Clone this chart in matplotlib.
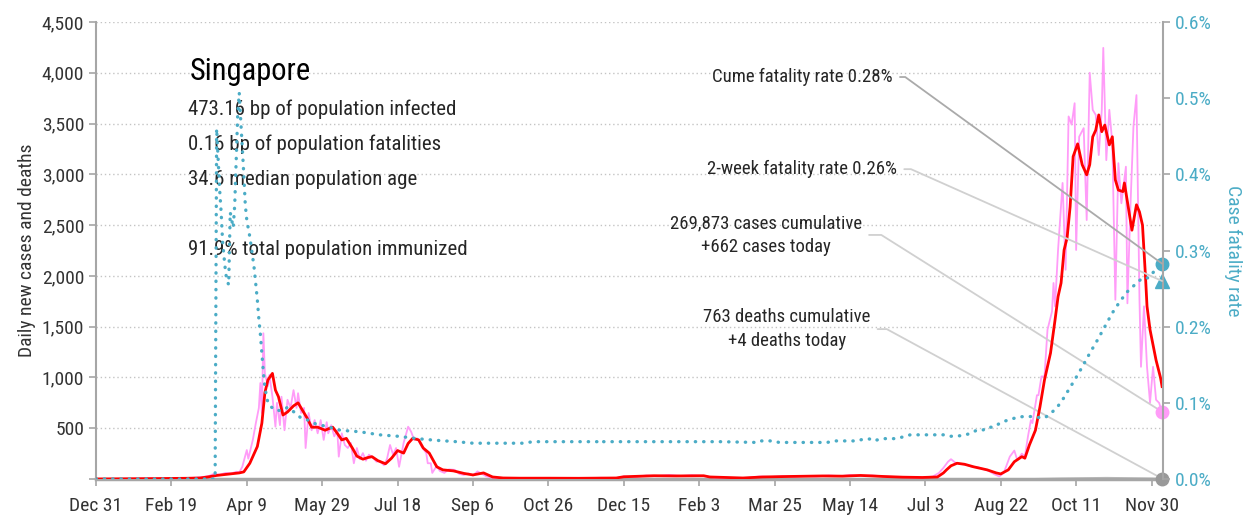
import numpy as np
import pandas as pd
import matplotlib
matplotlib.use("Agg")
from matplotlib import pyplot as plt
from matplotlib import font_manager

START = pd.Timestamp("2019-12-31")

# daily new cases as reported (day offset from START, count)
raw_day = [0, 22, 35, 45, 55, 63, 70, 75, 78, 82, 86, 90, 93, 95, 97, 100, 101, 104, 106, 108,
           109, 110, 111, 112, 114, 115, 117, 119, 120, 122, 123, 125, 127, 129, 131, 133, 134, 136, 138, 139,
           141, 143, 145, 147, 149, 151, 153, 154, 156, 158, 160, 161, 163, 165, 167, 169, 171, 173, 175, 177,
           179, 181, 184, 186, 188, 191, 193, 195, 197, 199, 201, 204, 207, 209, 211, 213, 216, 219, 220, 222,
           223, 226, 228, 231, 234, 238, 241, 244, 247, 250, 253, 256, 259, 262, 266, 275, 290, 305, 320, 335,
           345, 350, 358, 365, 372, 380, 388, 395, 403, 410, 420, 430, 440, 448, 455, 463, 470, 478, 486, 494,
           500, 507, 515, 522, 530, 540, 548, 555, 559, 562, 565, 567, 570, 573, 577, 581, 585, 588, 592, 596,
           599, 602, 606, 609, 611, 614, 616, 618, 620, 621, 624, 625, 627, 629, 631, 634, 635, 636, 638, 641,
           643, 645, 647, 649, 650, 652, 655, 657, 659, 661, 663, 665, 667, 668, 670, 672, 674, 676, 678, 680,
           683, 684, 686, 688, 690, 692, 693, 695, 697, 699, 701, 703, 705, 707]
raw_cases = [0, 2, 5, 3, 8, 10, 18, 30, 50, 42, 60, 55, 72, 65, 120, 285, 200, 385, 550, 700,
             945, 650, 1435, 1040, 915, 1025, 810, 515, 750, 530, 810, 480, 780, 700, 875, 700, 845, 650, 700, 305,
             650, 480, 580, 450, 580, 385, 560, 450, 530, 420, 480, 220, 450, 335, 305, 355, 155, 305, 195, 255,
             180, 240, 205, 170, 180, 135, 200, 335, 240, 305, 120, 355, 515, 465, 385, 400, 320, 255, 155, 155,
             60, 130, 80, 60, 95, 90, 50, 40, 55, 35, 75, 50, 25, 15, 10, 8, 5, 10, 6, 12,
             8, 25, 20, 35, 28, 40, 30, 38, 30, 15, 12, 8, 25, 20, 28, 22, 30, 25, 35, 28,
             40, 30, 35, 25, 20, 15, 12, 25, 60, 110, 170, 195, 160, 150, 140, 120, 115, 100, 80, 45,
             25, 60, 220, 280, 185, 250, 220, 415, 580, 550, 825, 825, 1010, 1010, 1470, 1650, 1930, 1700, 2255, 2915,
             2060, 3570, 3490, 3700, 2255, 3370, 3455, 2550, 4000, 3635, 3585, 3190, 3635, 4245, 3140, 3635, 3305, 1765, 3110, 2715,
             3075, 1730, 2680, 3470, 3780, 1765, 1105, 1700, 1105, 750, 1105, 780, 750, 662]

# 7-day average of new cases
avg_day = [0, 20, 40, 60, 69, 74, 80, 89, 95, 98, 102, 107, 110, 112, 114, 117, 119, 121, 124, 127,
           131, 134, 136, 140, 143, 147, 152, 155, 157, 160, 163, 166, 170, 173, 177, 180, 183, 187, 192, 196,
           200, 204, 207, 210, 214, 217, 221, 226, 230, 237, 244, 250, 257, 263, 270, 281, 300, 320, 345, 350,
           370, 385, 403, 407, 429, 442, 460, 482, 495, 507, 515, 522, 535, 548, 558, 562, 564, 567, 571, 576,
           582, 591, 597, 600, 605, 609, 614, 616, 619, 623, 626, 629, 633, 636, 638, 640, 642, 644, 646, 648,
           651, 654, 657, 659, 661, 663, 665, 667, 669, 672, 674, 676, 678, 681, 682, 684, 687, 690, 692, 694,
           696, 697, 699, 701, 703, 706, 707]
avg_cases = [0, 2, 4, 7, 10, 20, 35, 50, 60, 70, 155, 320, 550, 850, 975, 1040, 875, 810, 630, 660,
             720, 750, 700, 600, 510, 510, 480, 500, 510, 450, 385, 400, 305, 225, 195, 210, 220, 180, 150, 205,
             280, 255, 350, 400, 385, 305, 255, 120, 90, 80, 55, 40, 60, 20, 10, 8, 8, 7, 10, 22,
             32, 30, 32, 20, 10, 20, 25, 30, 28, 35, 30, 25, 18, 15, 20, 60, 90, 130, 155, 145,
             120, 90, 60, 50, 90, 170, 220, 205, 335, 480, 710, 975, 1240, 1565, 1795, 1930, 2255, 2375, 2680, 3175,
             3300, 3095, 2995, 3095, 3370, 3435, 3585, 3420, 3485, 3290, 3370, 2945, 2845, 2830, 2915, 2730, 2450, 2700, 2630, 2500,
             1990, 1700, 1470, 1320, 1170, 995, 910]

# cumulative case fatality rate, percent
cfr_day = [0, 79, 80, 81, 82, 83, 84, 85, 86, 87, 88, 89, 90, 91, 92, 93, 94, 95, 96, 97,
           98, 99, 100, 102, 104, 105, 106, 107, 108, 109, 110, 111, 112, 114, 116, 119, 123, 127, 132, 136,
           141, 146, 153, 162, 175, 188, 201, 213, 224, 239, 250, 283, 290, 334, 335, 336, 414, 438, 440, 449,
           453, 485, 489, 505, 509, 513, 515, 522, 531, 540, 562, 566, 575, 580, 584, 588, 591, 595, 601, 606,
           611, 615, 620, 624, 629, 633, 637, 641, 645, 649, 654, 659, 664, 669, 674, 679, 684, 690, 694, 698,
           701, 704, 707]
cfr_pct = [0, 0, 0.46, 0.42, 0.38, 0.35, 0.31, 0.29, 0.27, 0.26, 0.255, 0.35, 0.34, 0.33, 0.36, 0.42, 0.48, 0.507, 0.47, 0.436,
           0.40, 0.36, 0.34, 0.318, 0.29, 0.275, 0.255, 0.235, 0.21, 0.19, 0.165, 0.14, 0.12, 0.1, 0.095, 0.09, 0.09, 0.094, 0.087, 0.08,
           0.077, 0.072, 0.069, 0.064, 0.062, 0.058, 0.056, 0.053, 0.051, 0.049, 0.047, 0.047, 0.049, 0.049, 0.051, 0.049, 0.049, 0.048, 0.05, 0.05,
           0.048, 0.048, 0.05, 0.05, 0.0525, 0.0525, 0.05, 0.053, 0.053, 0.058, 0.058, 0.056, 0.057, 0.06, 0.064, 0.064, 0.068, 0.068, 0.075, 0.078,
           0.081, 0.082, 0.082, 0.081, 0.08, 0.086, 0.093, 0.104, 0.117, 0.13, 0.147, 0.165, 0.182, 0.2, 0.218, 0.233, 0.246, 0.257, 0.264, 0.264,
           0.271, 0.278, 0.283]

# daily deaths
death_day = [0, 80, 81, 100, 115, 130, 150, 600, 620, 630, 640, 650, 660, 670, 680, 690, 700, 707]
death_count = [0, 0, 1, 1, 2, 1, 0, 0, 2, 5, 8, 10, 12, 14, 12, 10, 8, 4]

country = "Singapore"
stats = ["473.16 bp of population infected",
         "0.16 bp of population fatalities",
         "34.6 median population age",
         "",
         "91.9% total population immunized"]
cases_total = 269873
cases_today = 662
deaths_total = 763
deaths_today = 4
cfr_two_week = 0.26

CLR_RAW = "#ff9cf8"
CLR_AVG = "#ff0000"
CLR_CFR = "#4bacc6"
CLR_AXIS = "#a6a6a6"
CLR_TEXT = "#262626"


def pick_font(names):
    have = {f.name for f in font_manager.fontManager.ttflist}
    for n in names:
        if n in have:
            return n
    return "DejaVu Sans"


plt.rcParams["font.family"] = pick_font(["Roboto Condensed", "Liberation Sans Narrow", "Open Sans Condensed"])

fig = plt.figure(figsize=(12.47, 5.17), dpi=100)
ax = fig.add_axes([96 / 1247, 38 / 517, 1067 / 1247, 457 / 517])
ax2 = ax.twinx()

last_day = raw_day[-1]
cfr_cume = deaths_total / cases_total * 100

# cases and deaths on the left axis
ax.plot(death_day, death_count, color="#bbbbbb", lw=1, zorder=1.5)
ax.plot(raw_day, raw_cases, color=CLR_RAW, lw=1.3, zorder=3)
ax.plot(avg_day, avg_cases, color=CLR_AVG, lw=2, zorder=4)
ax.plot(last_day, cases_today, "o", color=CLR_RAW, ms=9, clip_on=False, zorder=5)
ax.plot(last_day, deaths_today, "o", color="#999999", ms=9, clip_on=False, zorder=5)

# fatality rate on the right axis
ax2.plot(cfr_day, cfr_pct, color=CLR_CFR, lw=2.4, linestyle=(0, (0.1, 2.4)),
         dash_capstyle="round")
ax2.plot(last_day, cfr_cume, "o", color=CLR_CFR, ms=9, clip_on=False)
ax2.plot(last_day, cfr_two_week, "^", color=CLR_CFR, ms=10, clip_on=False)

ax.set_xlim(0, 707.6)
ax.set_ylim(0, 4500)
ax2.set_ylim(0, 0.6)

xt = list(range(0, 701, 50))
ax.set_xticks(xt)
ax.set_xticklabels([f"{d:%b} {d.day}" for d in (START + pd.to_timedelta(xt, unit="D"))])
yt = list(range(0, 4501, 500))
ax.set_yticks(yt)
ax.set_yticklabels([""] + [f"{v:,}" for v in yt[1:]])
rt = np.arange(0, 0.61, 0.1)
ax2.set_yticks(rt)
ax2.set_yticklabels([f"{v:.1f}%" for v in rt])

ax.yaxis.grid(True, linestyle=(0, (1, 2)), color="#c4c4c4", lw=1)
ax.set_axisbelow(True)

for a in (ax, ax2):
    a.spines["top"].set_visible(False)
    for s in a.spines.values():
        s.set_color(CLR_AXIS)
ax.spines["right"].set_visible(False)
ax.spines["left"].set_linewidth(1.5)
ax.spines["bottom"].set_linewidth(2.5)
ax2.spines["left"].set_visible(False)
ax2.spines["bottom"].set_visible(False)
ax2.spines["right"].set_linewidth(1.5)

ax.tick_params(axis="both", colors=CLR_AXIS, labelcolor="#333333", labelsize=14, length=5, width=1.2)
ax.tick_params(axis="x", pad=8)
ax2.tick_params(axis="y", colors=CLR_AXIS, labelcolor=CLR_CFR, labelsize=14, length=5, width=1.2)

ax.set_ylabel("Daily new cases and deaths", fontsize=14, color="#333333", labelpad=4)
ax2.set_ylabel("Case fatality rate", fontsize=14, color=CLR_CFR, rotation=270, labelpad=22)

# country summary
ax.text(0.088, 0.873, country, transform=ax.transAxes, fontsize=22, color="black", zorder=1)
for i, line in enumerate(stats):
    ax.text(0.086, 0.7965 - i * 0.0765, line, transform=ax.transAxes, fontsize=15,
            color=CLR_TEXT, zorder=1)


# labels with leader lines to the latest values
def leader(axis, text, value, pos, angle, color, ha="right"):
    axis.annotate(text, xy=(last_day, value), xycoords="data",
                  xytext=pos, textcoords="axes fraction", ha=ha, va="center",
                  fontsize=13.5, color=CLR_TEXT, linespacing=1.4, multialignment="center",
                  arrowprops=dict(arrowstyle="-", color=color, lw=1.3, relpos=(1, 0.5),
                                  shrinkA=3, shrinkB=0,
                                  connectionstyle=f"angle,angleA=0,angleB={angle},rad=0"))


leader(ax2, f"Cume fatality rate {cfr_cume:.2f}%", cfr_cume, (0.747, 0.8796), -36, "#aaaaaa")
leader(ax2, f"2-week fatality rate {cfr_two_week:.2f}%", cfr_two_week, (0.751, 0.678), -24, "#d0d0d0")
leader(ax, f"{cases_total:,} cases cumulative\n+{cases_today:,} cases today", cases_today,
       (0.628, 0.534), -32.2, "#d0d0d0", ha="center")
leader(ax, f"{deaths_total:,} deaths cumulative\n+{deaths_today:,} deaths today", deaths_today,
       (0.6476, 0.328), -28.5, "#d0d0d0", ha="center")

fig.savefig("out.png", dpi=100)
